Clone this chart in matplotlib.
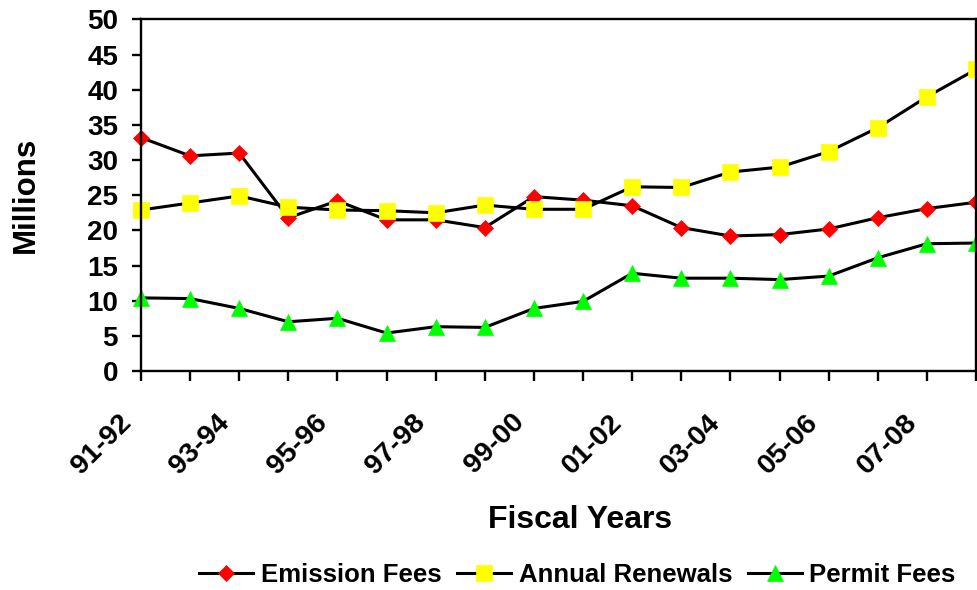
import matplotlib
matplotlib.use("Agg")
import matplotlib.pyplot as plt
import matplotlib.transforms as mtransforms
import numpy as np

plt.rcParams['font.family'] = ['Liberation Sans', 'DejaVu Sans']
plt.rcParams['font.weight'] = 'bold'

# fiscal years and revenue (millions)
years = ['91-92', '92-93', '93-94', '94-95', '95-96', '96-97', '97-98', '98-99', '99-00',
         '00-01', '01-02', '02-03', '03-04', '04-05', '05-06', '06-07', '07-08', '08-09']
emission_fees = [33.2, 30.6, 31.0, 21.8, 24.2, 21.5, 21.5, 20.4, 24.8,
                 24.3, 23.5, 20.4, 19.2, 19.4, 20.2, 21.8, 23.1, 24.0]
annual_renewals = [22.9, 23.9, 24.9, 23.3, 22.9, 22.8, 22.5, 23.6, 23.0,
                   23.0, 26.2, 26.1, 28.3, 29.0, 31.2, 34.6, 39.0, 42.9]
permit_fees = [10.4, 10.3, 8.9, 7.0, 7.5, 5.4, 6.3, 6.2, 8.9,
               9.9, 13.9, 13.2, 13.2, 13.0, 13.5, 16.1, 18.1, 18.2]

series = [
    ('Emission Fees', emission_fees, 'D', '#ff0000', 8),
    ('Annual Renewals', annual_renewals, 's', '#ffff00', 11),
    ('Permit Fees', permit_fees, '^', '#00ff00', 11),
]

fig = plt.figure(figsize=(9.77, 5.90), dpi=100)
ax = fig.add_axes([0.1443, 0.3712, 0.8547, 0.5958])

x = np.arange(len(years))
for name, values, marker, color, size in series:
    ax.plot(x, values, color='black', linewidth=2.2, marker=marker,
            markersize=size, markerfacecolor=color, markeredgecolor=color,
            markeredgewidth=0.5, label=name, clip_on=False)

ax.set_xlim(0, len(years) - 1)
ax.set_ylim(0, 50)
ax.set_yticks(np.arange(0, 51, 5))
ax.set_xticks(x)
ax.set_xticklabels([y if i % 2 == 0 else '' for i, y in enumerate(years)],
                   rotation=45, ha='right', va='center', rotation_mode='anchor')

for spine in ax.spines.values():
    spine.set_linewidth(1.7)
ax.tick_params(axis='y', direction='out', length=6.5, width=1.7, pad=10, labelsize=20)
ax.tick_params(axis='x', direction='out', length=7, width=1.7, pad=27, labelsize=20.5)

# nudge the slanted year labels a little to the left
shift = mtransforms.ScaledTranslation(-14 / 100, 0, fig.dpi_scale_trans)
for lbl in ax.get_xticklabels():
    lbl.set_transform(lbl.get_transform() + shift)

ax.set_ylabel('Millions', fontsize=22.5, fontweight='bold')
ax.yaxis.set_label_coords(-0.12, 0.5)
ax.set_xlabel('Fiscal Years', fontsize=23, fontweight='bold')
ax.xaxis.set_label_coords(0.526, -0.38)

fig.legend(loc='center', bbox_to_anchor=(0.591, 0.025), ncol=3, frameon=False,
           fontsize=18.5, handlelength=2.1, handletextpad=0.3, columnspacing=0.6,
           borderaxespad=0)

fig.savefig('out.png', dpi=100)
